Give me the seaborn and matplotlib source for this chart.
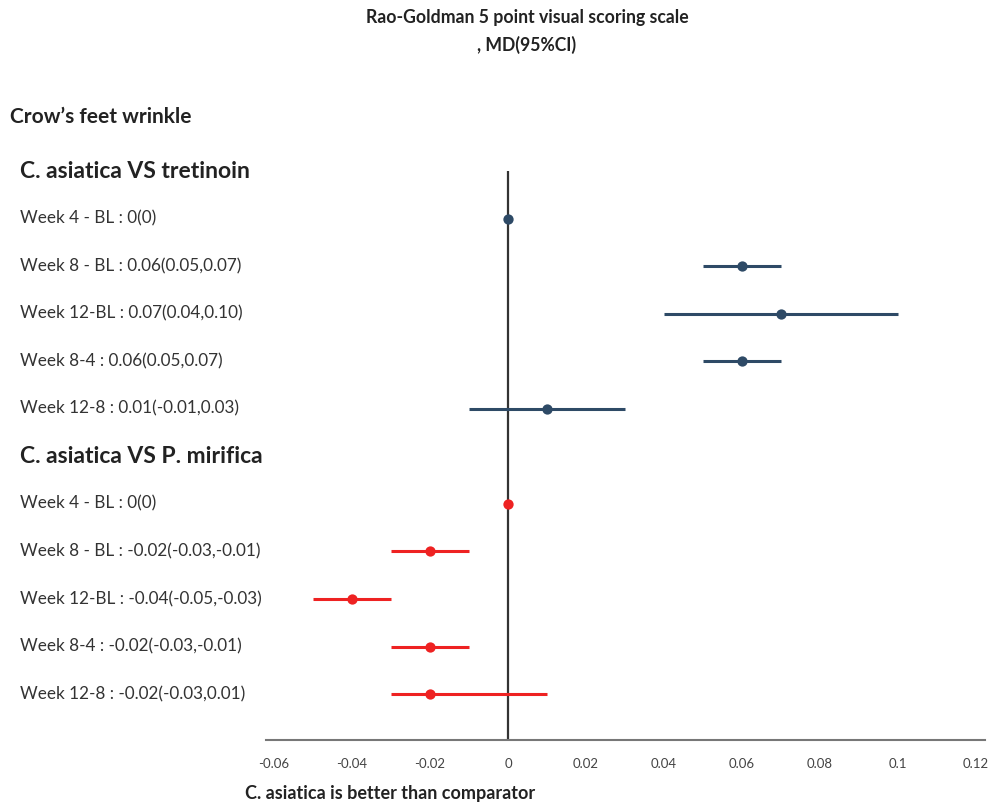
import matplotlib
matplotlib.use("Agg")
import matplotlib.pyplot as plt
import seaborn as sns
import numpy as np
import pandas as pd

title_lines = ["Rao-Goldman 5 point visual scoring scale", ", MD(95%CI)"]
outcome = "Crow\u2019s feet wrinkle"
groups = ["C. asiatica VS tretinoin", "C. asiatica VS P. mirifica"]
comparisons = ["Week 4 - BL", "Week 8 - BL", "Week 12-BL", "Week 8-4", "Week 12-8"]
tret_md = [0, 0.06, 0.07, 0.06, 0.01]
tret_lo = [0, 0.05, 0.04, 0.05, -0.01]
tret_hi = [0, 0.07, 0.10, 0.07, 0.03]
mir_md = [0, -0.02, -0.04, -0.02, -0.02]
mir_lo = [0, -0.03, -0.05, -0.03, -0.03]
mir_hi = [0, -0.01, -0.03, -0.01, 0.01]
tret_text = ["0(0)", "0.06(0.05,0.07)", "0.07(0.04,0.10)", "0.06(0.05,0.07)", "0.01(-0.01,0.03)"]
mir_text = ["0(0)", "-0.02(-0.03,-0.01)", "-0.04(-0.05,-0.03)", "-0.02(-0.03,-0.01)", "-0.02(-0.03,0.01)"]
x_ticks = [-0.06, -0.04, -0.02, 0, 0.02, 0.04, 0.06, 0.08, 0.1, 0.12]
footer = "C. asiatica is better than comparator"
colors = ["#2E4A66", "#EE2222"]

sns.set_theme(style="white")
plt.rcParams['font.family'] = ['Lato', 'DejaVu Sans']

rows = []
for g, (md, lo, hi, txt) in enumerate([(tret_md, tret_lo, tret_hi, tret_text),
                                        (mir_md, mir_lo, mir_hi, mir_text)]):
    for i, c in enumerate(comparisons):
        rows.append(dict(group=groups[g], label=f"{c} : {txt[i]}", md=md[i], lo=lo[i], hi=hi[i],
                         pos=g * 6 + 1 + i))
df = pd.DataFrame(rows)

W, H = 996, 802
fig = plt.figure(figsize=(W / 100, H / 100), dpi=100)
left_px, right_px, top_px, bot_px = 266, 985, 160, 740
ax = fig.add_axes([left_px / W, 1 - bot_px / H, (right_px - left_px) / W, (bot_px - top_px) / H])

r0_px, dr = 171, 47.55
ax.set_ylim((bot_px - r0_px) / dr, (top_px - r0_px) / dr)
x0_px, scale = 508, 3900.0
ax.set_xlim((left_px - x0_px) / scale, (right_px - x0_px) / scale)

# zero line
ax.vlines(0, 0, (bot_px - r0_px) / dr, color="#333333", lw=1.6, zorder=1)

for g, grp in enumerate(groups):
    sub = df[df.group == grp]
    ax.hlines(sub.pos, sub.lo, sub.hi, color=colors[g], lw=2.2, zorder=2)
    sns.scatterplot(data=sub, x="md", y="pos", color=colors[g], s=55, edgecolor=colors[g],
                    linewidth=0, ax=ax, zorder=3, legend=False)

ax.set_xticks(x_ticks)
ax.set_xticklabels([f"{v:g}" for v in x_ticks], fontsize=9.5, color="#444444")
ax.tick_params(axis="x", length=0, pad=13)
ax.set_yticks([])
ax.set_xlabel("")
ax.set_ylabel("")
for s in ["top", "right", "left"]:
    ax.spines[s].set_visible(False)
ax.spines["bottom"].set_color("#777777")
ax.spines["bottom"].set_linewidth(1.5)

# left labels
for _, r in df.iterrows():
    fig.text(20 / W, 1 - (r0_px + r.pos * dr) / H, r.label, fontsize=12.3, color="#333333",
             ha="left", va="center")
for g, grp in enumerate(groups):
    fig.text(20 / W, 1 - (r0_px + g * 6 * dr) / H, grp, fontsize=16.5, fontweight="bold",
             color="#222222", ha="left", va="center")
fig.text(10 / W, 1 - 117 / H, outcome, fontsize=15, fontweight="bold", color="#222222",
         ha="left", va="center")
fig.text(527 / W, 1 - 18 / H, title_lines[0], fontsize=12.7, fontweight="bold", color="#222222",
         ha="center", va="center")
fig.text(527 / W, 1 - 45 / H, title_lines[1], fontsize=12.7, fontweight="bold", color="#222222",
         ha="center", va="center")
fig.text(245 / W, 1 - 793 / H, footer, fontsize=13, fontweight="bold", color="#222222",
         ha="left", va="center")

fig.savefig("out.png", dpi=100, facecolor="white")
